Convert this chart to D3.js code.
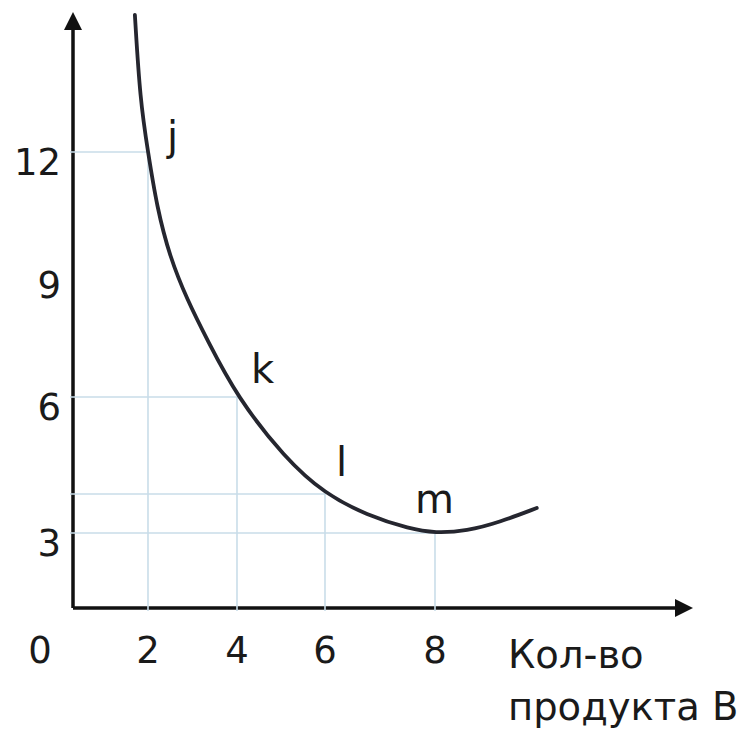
<!DOCTYPE html>
<html>
<head>
<meta charset="utf-8">
<script src="https://cdn.jsdelivr.net/npm/d3@7"></script>
<style>
  body { margin: 0; background: #fff; }
  text { font-family: "DejaVu Sans", Verdana, sans-serif; fill: #1a1a1a; }
</style>
</head>
<body>
<div class="chart"></div>
<script>
// Tick values and labels
var xTicks = [2, 4, 6, 8];
var yTicks = [3, 6, 9, 12];

// Marked points on the curve
var pointNames = ["j", "k", "l", "m"];
var pointX = [2, 4, 6, 8];
var pointY = [12, 6, 4, 3];

// Curve (x = product B)
var curveX = [1.65, 1.79, 2, 2.2, 2.49, 2.88, 3.33, 4, 5.09, 6, 6.76, 7.55, 8, 8.58, 9.18, 9.85];
var curveY = [15.36, 13.27, 12, 10.65, 9.43, 8.38, 7.4, 6, 4.74, 4, 3.46, 3.1, 3, 3.05, 3.28, 3.64];

var axisLabel = ["Кол-во", "продукта В"];

// SVG area
var svgWidth = 741;
var svgHeight = 729;

var svg = d3.select(".chart")
  .append("svg")
  .attr("width", svgWidth)
  .attr("height", svgHeight);

// Scales (hand drawn axis, so spacing is not even)
var xScale = d3.scaleLinear()
  .domain([0, 2, 4, 6, 8])
  .range([73, 148, 237, 325, 435]);

var yScale = d3.scaleLinear()
  .domain([0, 3, 4, 6, 12])
  .range([608, 533, 494, 397, 152]);

var gridColor = "#c9dde9";
var x0 = xScale(0);
var y0 = yScale(0);

// Axes lines
svg.append("line")
  .attr("x1", x0).attr("y1", y0)
  .attr("x2", x0).attr("y2", 26)
  .attr("stroke", "#111").attr("stroke-width", 3.5);

svg.append("line")
  .attr("x1", x0).attr("y1", y0)
  .attr("x2", 680).attr("y2", y0)
  .attr("stroke", "#111").attr("stroke-width", 3.5);

// Arrow heads
svg.append("path")
  .attr("d", `M${x0},12 L${x0 - 9},30 L${x0 + 9},30 Z`)
  .attr("fill", "#111");

svg.append("path")
  .attr("d", `M693,${y0} L675,${y0 - 9} L675,${y0 + 9} Z`)
  .attr("fill", "#111");

// Guide lines from the points to the axes
var points = pointNames.map(function(n, i) {
  return { name: n, x: pointX[i], y: pointY[i] };
});

svg.selectAll(".vgrid")
  .data(points)
  .enter()
  .append("line")
  .attr("class", "vgrid")
  .attr("x1", d => xScale(d.x))
  .attr("x2", d => xScale(d.x))
  .attr("y1", d => yScale(d.y))
  .attr("y2", y0 + 3)
  .attr("stroke", gridColor)
  .attr("stroke-width", 1.6);

svg.selectAll(".hgrid")
  .data(points)
  .enter()
  .append("line")
  .attr("class", "hgrid")
  .attr("x1", x0 - 3)
  .attr("x2", d => xScale(d.x))
  .attr("y1", d => yScale(d.y))
  .attr("y2", d => yScale(d.y))
  .attr("stroke", gridColor)
  .attr("stroke-width", 1.6);

// The curve
var curveData = curveX.map(function(x, i) { return [x, curveY[i]]; });

var line = d3.line()
  .x(d => xScale(d[0]))
  .y(d => yScale(d[1]))
  .curve(d3.curveBasis);

svg.append("path")
  .datum(curveData)
  .attr("d", line)
  .attr("fill", "none")
  .attr("stroke", "#25262f")
  .attr("stroke-width", 3.8)
  .attr("stroke-linecap", "round");

// Point letters
var letterOffset = {
  j: [19, -2],
  k: [14, -14],
  l: [11, -18],
  m: [-20, -20]
};

svg.selectAll(".pname")
  .data(points)
  .enter()
  .append("text")
  .attr("class", "pname")
  .attr("x", d => xScale(d.x) + letterOffset[d.name][0])
  .attr("y", d => yScale(d.y) + letterOffset[d.name][1])
  .attr("font-size", "40px")
  .text(d => d.name);

// Tick labels
svg.selectAll(".xtick")
  .data([0].concat(xTicks))
  .enter()
  .append("text")
  .attr("class", "xtick")
  .attr("x", d => d === 0 ? 40 : xScale(d))
  .attr("y", 663)
  .attr("text-anchor", "middle")
  .attr("font-size", "37px")
  .text(d => d);

svg.selectAll(".ytick")
  .data(yTicks)
  .enter()
  .append("text")
  .attr("class", "ytick")
  .attr("x", 61)
  .attr("y", d => yScale(d) + 23)
  .attr("text-anchor", "end")
  .attr("font-size", "37px")
  .text(d => d);

// Axis title
svg.selectAll(".axisText")
  .data(axisLabel)
  .enter()
  .append("text")
  .attr("class", "axisText")
  .attr("x", 508)
  .attr("y", (d, i) => 668 + i * 52)
  .attr("font-size", "38.5px")
  .text(d => d);
</script>
</body>
</html>
